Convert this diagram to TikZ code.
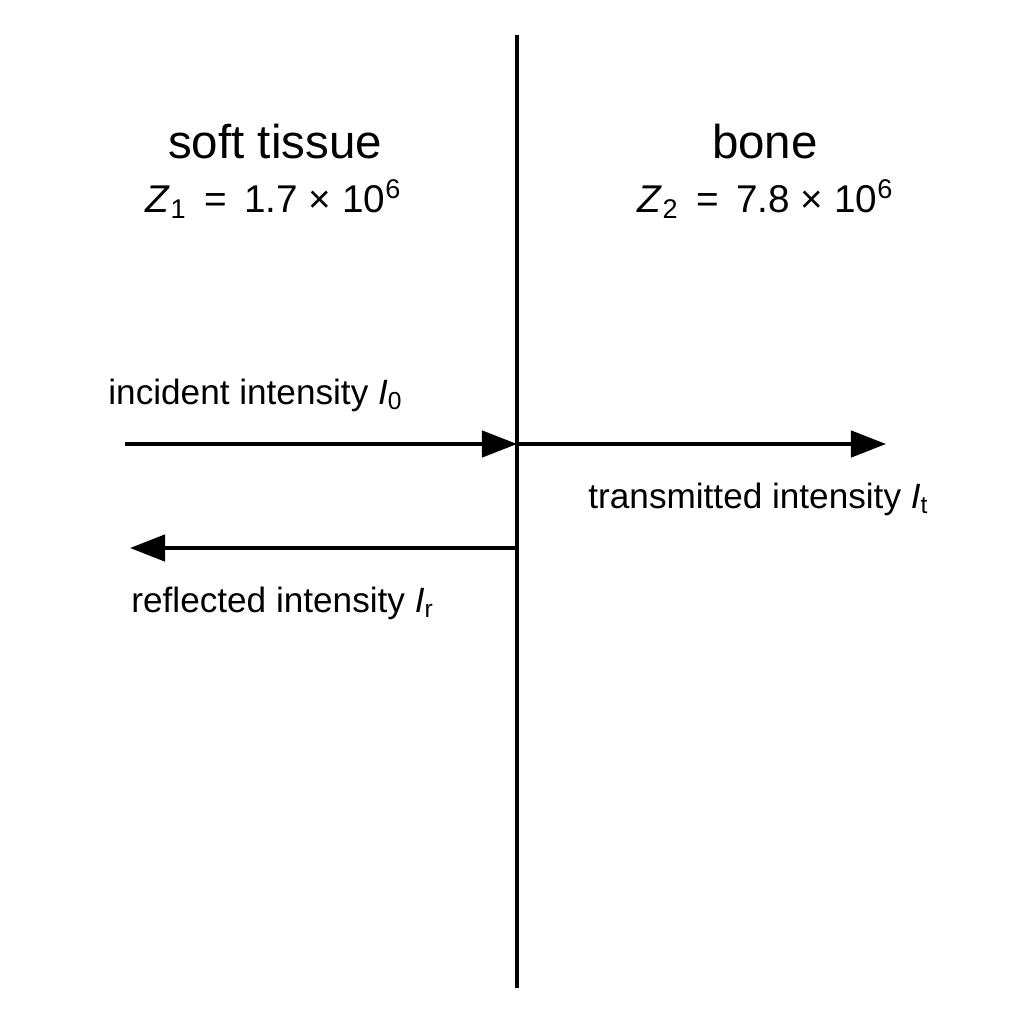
\documentclass[tikz,border=0pt]{standalone}
\usepackage{fontspec}
\setmainfont{Liberation Sans}
\usetikzlibrary{arrows.meta}
\begin{document}
\begin{tikzpicture}[x=0.01cm,y=-0.01cm,
  ln/.style={line width=1.1pt},
  ar/.style={ln,-{Triangle[length=10pt,width=7.5pt]}},
  head/.style={font=\fontsize{13.5}{16}\selectfont},
  sub/.style={font=\fontsize{11}{13}\selectfont},
  lab/.style={font=\fontsize{10}{12}\selectfont,anchor=west}]
\useasboundingbox (0,0) rectangle (1024,1024);
\coordinate (top) at (517,35);
\coordinate (bot) at (517,988);
\coordinate (hit) at (517,444);
\coordinate (src) at (125,444);
\coordinate (tr) at (886,444);
\coordinate (rs) at (517,548);
\coordinate (rf) at (130,548);
\draw[ln] (top) -- (bot);
\draw[ar] (src) -- (hit);
\draw[ar] (hit) -- (tr);
\draw[ar] (rs) -- (rf);
\node[head] (st) at (275,142) {soft tissue};
\node[sub] (z1) at (274,199) {\textit{Z}\textsubscript{1} \,=\, 1.7 × 10\textsuperscript{6}};
\node[head] (bn) at (765,142) {bone};
\node[sub] (z2) at (766,199) {\textit{Z}\textsubscript{2} \,=\, 7.8 × 10\textsuperscript{6}};
\node[lab] (inc) at (96,395) {incident intensity \textit{I}\textsubscript{0}};
\node[lab] (tra) at (576,499) {transmitted intensity \textit{I}\textsubscript{t}};
\node[lab] (ref) at (119,603) {reflected intensity \textit{I}\textsubscript{r}};
\end{tikzpicture}
\end{document}
